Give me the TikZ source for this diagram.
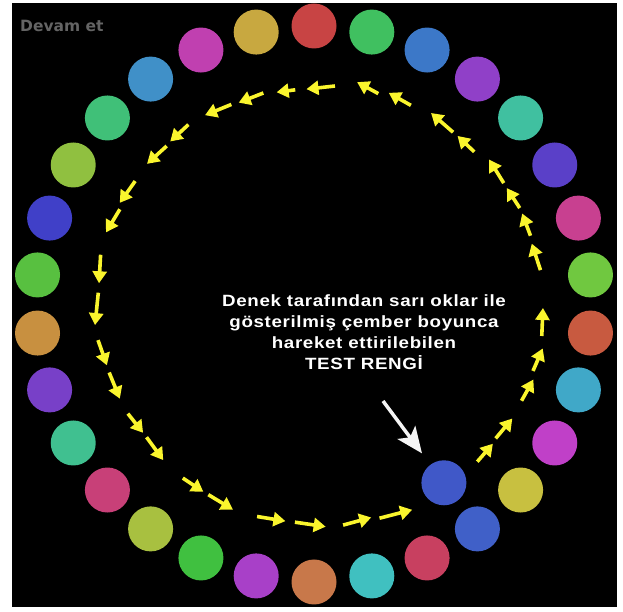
\documentclass[tikz,border=0pt]{standalone}
\usepackage{fontspec}
\usetikzlibrary{arrows.meta}
\newfontfamily\notefont[FakeStretch=1.15,LetterSpace=4]{Liberation Sans}
\newfontfamily\menufont{DejaVu Sans}
\definecolor{trail}{RGB}{250,245,45}
\definecolor{testblue}{HTML}{4058C8}
\definecolor{menugray}{RGB}{100,100,100}
\tikzset{
  dot/.style={circle,inner sep=0pt,minimum size=45pt},
  trailarrow/.style={trail,line width=3.6pt,-{Triangle[length=12pt,width=14pt]}},
  pointer/.style={white!92!gray,line width=3.5pt,-{Stealth[length=26pt,width=22pt,inset=6pt]}}
}

\begin{document}
\begin{tikzpicture}[x=1pt,y=1pt]
\useasboundingbox (0,0) rectangle (623,612);
\fill[white] (0,0) rectangle (623,612);
\fill[black] (12,5) rectangle (617,609);
\node[anchor=base west,inner sep=0pt,text=menugray,font=\menufont\bfseries\fontsize{15.5}{18}\selectfont] (menu) at (20,580) {Devam et};
\begin{scope}[shift={(314,308)}]
\foreach \hex [count=\i from 0] in {C84444,40C060,3C78C8,9040C8,40C0A0,5A40C8,C84090,70C840,C85A40,40A8C8,
  C040C8,C8C040,4060C8,C84060,40C0C0,C8784A,A840C8,40C040,A8C040,C84078,
  40C090,7840C8,C89040,58C040,4040C8,90C040,40C078,4090C8,C040B0,C8A840}{
  \definecolor{dotcol}{HTML}{\hex}
  \node[dot,fill=dotcol] (c\i) at ({90-12*\i}:278) {};
}
\foreach \ta/\tr/\ha/\hr in {84.5/219/92/215, 95/215/100/215, 103.5/217/110.5/215, 112.5/216/120/218,
  125/219/131.5/217, 133/216/140/218, 145.5/217/152.5/219, 154/216/161/220,
  167/219/174.5/216, 177/216/185.5/220, 189.5/219/196.5/216, 198.5/216/206/216,
  210.5/216/217/214, 218.5/214/226/217, 233/218/239.5/218, 241/218/248.5/221,
  255/220/262.5/219, 265/219/273/223, 277.5/223/285/221, 287/224/295.5/228,
  316/227/322/227, 323.5/226/330/229, 335/229/341/232, 343/229/349/233, 352/230/359/229,
  8.5/229/15.5/226, 17.5/227/23.5/227, 25/227/31/225, 32.5/225/39.5/227,
  43.5/221/49.5/221, 51/221/58.5/224, 64/221/70.5/224, 73/220/79/226}
  \draw[trailarrow] (\ta:\tr) -- (\ha:\hr);
\node[dot,fill=testblue] (test) at (306:221) {};
\end{scope}
\node[anchor=north,inner sep=0pt,align=center,text=white,font=\notefont\bfseries\fontsize{16.3}{21.3}\selectfont] (note) at (364,318)
  {Denek tarafından sarı oklar ile\\gösterilmiş çember boyunca\\hareket ettirilebilen\\TEST RENGİ};
\coordinate (ptr) at (383,211);
\draw[pointer,shorten >=14pt] (ptr) -- (test);
\end{tikzpicture}
\end{document}
